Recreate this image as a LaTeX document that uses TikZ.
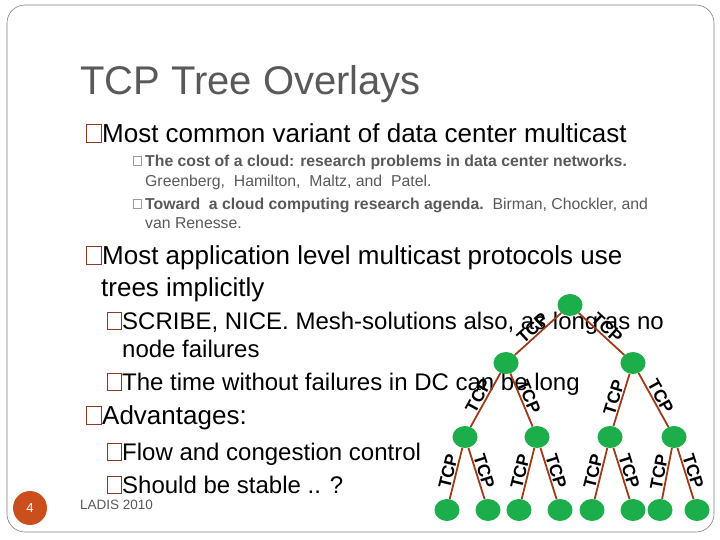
\documentclass[tikz,border=0pt]{standalone}
\usepackage{fontspec}
\usetikzlibrary{shapes.geometric}
\setmainfont{Liberation Sans}
\definecolor{tgreen}{HTML}{1BAE4B}
\definecolor{tedge}{HTML}{9A3B1B}
\definecolor{bul}{HTML}{8E3A22}
\definecolor{ttl}{HTML}{595959}
\definecolor{sub}{HTML}{595959}
\definecolor{pg}{HTML}{CB4F1D}
\begin{document}
\begin{tikzpicture}[x=1pt,y=-1pt,
  tn/.style={ellipse,fill=tgreen,minimum width=25pt,minimum height=22pt,inner sep=0pt},
  te/.style={draw=tedge,line width=1.8pt},
  tl/.style={font=\fontsize{17.5}{17.5}\selectfont\bfseries,sloped,inner sep=1pt,pos=0.5},
  txt/.style={anchor=base west,inner sep=0pt},
  bx/.style={draw=bul,line width=1pt},
  l1/.style={txt,font=\fontsize{26}{26}\selectfont},
  l2/.style={txt,font=\fontsize{24}{24}\selectfont},
  l3/.style={txt,font=\fontsize{15.8}{15.8}\selectfont,text=sub}]
\useasboundingbox (0,0) rectangle (720,540);
\draw[gray,line width=0.6pt,rounded corners=18pt] (7,5) rectangle (714,532);
\node[txt,font=\fontsize{40}{40}\selectfont,text=ttl] (title) at (80,95) {TCP Tree Overlays};
% level 1
\draw[bx] (86,125) rectangle (101,143);
\node[l1] (a1) at (102,143) {Most common variant of data center multicast};
\draw[sub!60,line width=0.6pt] (133,156) rectangle (141,165);
\node[l3] (s1) at (145,167) {\textbf{The cost of a cloud: research problems in data center networks.}};
\node[l3] (s2) at (145,187) {Greenberg,\ \ Hamilton,\ \ Maltz, and\ \ Patel.};
\draw[sub!60,line width=0.6pt] (133,199) rectangle (141,208);
\node[l3] (s3) at (145,210) {\textbf{Toward\ \ a cloud computing research agenda.}\ \ Birman, Chockler, and};
\node[l3] (s4) at (145,229) {van Renesse.};
\draw[bx] (86,246) rectangle (101,264);
\node[l1] (a2) at (102,264) {Most application level multicast protocols use};
\node[l1] (a3) at (101,296) {trees implicitly};
\draw[bx] (107,312) rectangle (121,329);
\node[l2] (b1) at (122,329) {SCRIBE, NICE. Mesh-solutions also, as long as no};
\node[l2] (b2) at (122,357) {node failures};
\draw[bx] (107,373) rectangle (121,390);
\node[l2] (b3) at (122,390) {The time without failures in DC can be long};
\draw[bx] (86,406) rectangle (101,424);
\node[l1] (a4) at (102,424) {Advantages:};
\draw[bx] (107,443) rectangle (121,460);
\node[l2] (b4) at (122,460) {Flow and congestion control};
\draw[bx] (107,476) rectangle (121,493);
\node[l2] (b5) at (122,493) {Should be stable .. ?};
\node[circle,fill=pg,minimum size=34pt,inner sep=0pt,text=white,font=\fontsize{13}{13}\selectfont] (pgn) at (30,508) {4};
\node[txt,font=\fontsize{13.5}{13.5}\selectfont,text=ttl] (ladis) at (80,509) {LADIS 2010};
% tree
\node[tn] (r) at (570,305) {};
\node[tn] (n1) at (506,363) {};
\node[tn] (n2) at (633,363) {};
\node[tn] (m1) at (465,437) {};
\node[tn] (m2) at (537,437) {};
\node[tn] (m3) at (610,437) {};
\node[tn] (m4) at (674,437) {};
\foreach \i/\x in {1/447,2/488,3/519,4/560,5/592,6/633,7/660,8/697}
  \node[tn] (k\i) at (\x,510) {};
\draw[te] (n1) -- node[tl,above] {TCP} (r);
\draw[te] (r) -- node[tl,above] {TCP} (n2);
\draw[te] (m1) -- node[tl,above] {TCP} (n1);
\draw[te] (n1) -- node[tl,above] {TCP} (m2);
\draw[te] (m3) -- node[tl,above] {TCP} (n2);
\draw[te] (n2) -- node[tl,above] {TCP} (m4);
\draw[te] (k1) -- node[tl,above] {TCP} (m1);
\draw[te] (m1) -- node[tl,above] {TCP} (k2);
\draw[te] (k3) -- node[tl,above] {TCP} (m2);
\draw[te] (m2) -- node[tl,above] {TCP} (k4);
\draw[te] (k5) -- node[tl,above] {TCP} (m3);
\draw[te] (m3) -- node[tl,above] {TCP} (k6);
\draw[te] (k7) -- node[tl,above] {TCP} (m4);
\draw[te] (m4) -- node[tl,above] {TCP} (k8);
\end{tikzpicture}
\end{document}
